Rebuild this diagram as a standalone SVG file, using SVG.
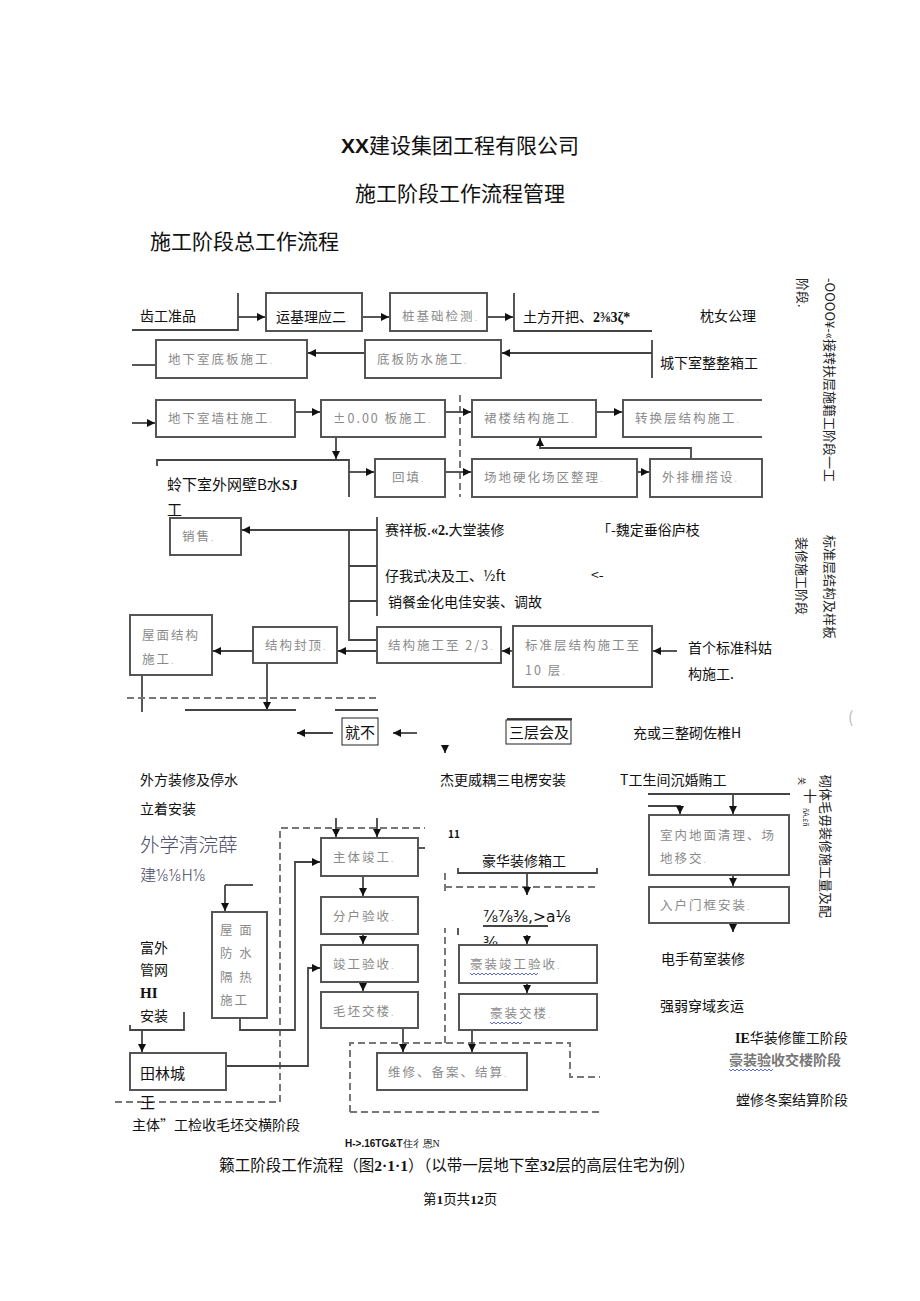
<svg xmlns="http://www.w3.org/2000/svg" width="920" height="1301" viewBox="0 0 920 1301">
<defs>
<marker id="ah" viewBox="0 0 10 10" refX="10" refY="5" markerWidth="8" markerHeight="8" markerUnits="userSpaceOnUse" orient="auto"><path d="M0,0 L10,5 L0,10 Z" fill="#111"/></marker>
<style>
text{font-family:"Noto Sans CJK SC","Noto Sans",sans-serif;}
.bx{fill:#fff;stroke:#555;stroke-width:2}
.tb{fill:#fff;stroke:#222;stroke-width:1}
.ln{fill:none;stroke:#444;stroke-width:1.8}
.ar{fill:none;stroke:#444;stroke-width:1.8;marker-end:url(#ah)}
.ds{fill:none;stroke:#777;stroke-width:2;stroke-dasharray:7 4}
.g{font-size:12.5px;fill:#8a8a8a;letter-spacing:2px}
.k{font-size:14px;fill:#111}
.dot{fill:#c0c0c0;font-size:9px}
.sb{font-family:"Liberation Serif",serif;font-weight:bold}
.wv{fill:none;stroke:#4a5bd0;stroke-width:0.9}
.vt{font-size:13px;fill:#222}
.fr{font-family:"DejaVu Sans",sans-serif}
</style>
</defs>
<rect width="920" height="1301" fill="#fff"/>

<g id="titles">
<text x="460" y="153" text-anchor="middle" font-size="21" fill="#111"><tspan font-weight="bold" font-family="Liberation Sans, sans-serif">XX</tspan>建设集团工程有限公司</text>
<text x="460" y="201" text-anchor="middle" font-size="21" fill="#111">施工阶段工作流程管理</text>
<text x="150" y="249" font-size="21" fill="#111">施工阶段总工作流程</text>
</g>

<g id="connectors">
<path class="ln" d="M132,330 H238 V293"/>
<path class="ar" d="M238,317 H265"/>
<path class="ar" d="M362,317 H389"/>
<path class="ar" d="M487,317 H513"/>
<path class="ln" d="M514,293 V331 H652"/>
<path class="ln" d="M132,365 H156"/>
<path class="ar" d="M365,353 H308"/>
<path class="ar" d="M652,353 H502"/>
<path class="ln" d="M652,340 V378"/>
<path class="ar" d="M132,423 H155"/>
<path class="ar" d="M295,412 H320"/>
<path class="ds" d="M460,395 V497"/>
<path class="ar" d="M445,412 H471"/>
<path class="ar" d="M596,412 H622"/>
<path class="ar" d="M691,459 V448 H540 V438"/>
<path class="ar" d="M336,437 V459"/>
<path class="ln" d="M157,466 V460 H349 V497"/>
<path class="ar" d="M349,472 H374"/>
<path class="ar" d="M445,472 H471"/>
<path class="ar" d="M637,472 H649"/>
<path class="ar" d="M377,530 H242"/>
<path class="ln" d="M349,530 V640 H377"/>
<path class="ln" d="M349,566 H377 M349,601 H377"/>
<path class="ln" d="M377,517 V616"/>
<path class="ar" d="M253,651 H213"/>
<path class="ar" d="M377,651 H338"/>
<path class="ar" d="M513,651 H502"/>
<path class="ar" d="M677,651 H653"/>
<path class="ln" d="M142,675 V712"/>
<path class="ds" d="M127,698 H380"/>
<path class="ar" d="M267,663 V710"/>
<path class="ln" d="M185,710 H296 M335,710 H378 M507,719 H572"/>
<path class="ar" d="M333,733 H297" stroke-width="2.6" stroke="#666"/>
<path class="ar" d="M417,733 H393" stroke-width="2.6" stroke="#666"/>
<path class="ar" d="M445,745 V753"/>
<path class="ds" d="M115,1102 H280 V828 H425"/>
<path class="ln" d="M418,848 H425"/>
<path class="ar" d="M336,818 V837"/>
<path class="ar" d="M377,818 V837"/>
<path class="ar" d="M363,876 V896"/>
<path class="ar" d="M363,934 V944"/>
<path class="ar" d="M363,982 V991"/>
<path class="ar" d="M403,1028 V1052"/>
<path class="ln" d="M225,885 H253"/>
<path class="ar" d="M225,885 V911"/>
<path class="ar" d="M240,1018 V1030 H295 V862 H320"/>
<path class="ln" d="M130,1025 V1030 H184 V1012"/>
<path class="ar" d="M142,1030 V1052"/>
<path class="ar" d="M226,1066 H308 V968 H320"/>
<path class="ds" d="M350,1112 V1043 H570 V1077 H600 M350,1112 H600"/>
<path class="ds" d="M445,1043 V928"/>
<path class="ln" d="M458,928 V935"/>
<path class="ln" d="M458,868 V873 H597 V868"/>
<path class="ds" d="M445,873 V895 M445,887 H597"/>
<path class="ar" d="M527,873 V895"/>
<path class="ar" d="M527,935 V944"/>
<path class="ar" d="M527,983 V993"/>
<path class="ar" d="M472,1030 V1052"/>
<path class="ln" d="M648,794 H790"/>
<path class="ar" d="M733,794 V814"/>
<path class="ar" d="M648,806 H680 V814"/>
<path class="ar" d="M733,875 V886"/>
<path class="ar" d="M733,923 V932"/>
<path class="ln" d="M483,926 H548"/>
</g>

<g id="n-prep"><text class="k" x="140" y="321">齿工准品</text></g>
<g id="n-yunji"><rect class="bx" x="266" y="293" width="96" height="38"/><text class="k" x="276" y="322">运基理应二<tspan class="dot">.</tspan></text></g>
<g id="n-zhuangji"><rect class="bx" x="390" y="293" width="97" height="38"/><text class="g" x="402" y="321">桩基础检测<tspan class="dot">.</tspan></text></g>
<g id="n-tufang"><text class="k" x="523" y="322">土方开把、<tspan class="sb">2⅜3ζ*</tspan></text></g>
<g id="n-t1"><text class="k" x="700" y="321">枕女公理</text></g>
<g id="n-diban"><rect class="bx" x="156" y="340" width="151" height="38"/><text class="g" x="168" y="364">地下室底板施工<tspan class="dot">.</tspan></text></g>
<g id="n-fangshui"><rect class="bx" x="365" y="340" width="136" height="38"/><text class="g" x="377" y="364">底板防水施工<tspan class="dot">.</tspan></text></g>
<g id="n-t2"><text class="k" x="660" y="368">城下室整整箱工</text></g>
<g id="n-qiangzhu"><rect class="bx" x="156" y="400" width="139" height="37"/><text class="g" x="168" y="423">地下室墙柱施工<tspan class="dot">.</tspan></text></g>
<g id="n-ban"><rect class="bx" x="321" y="400" width="124" height="37"/><text class="g" x="333" y="423">±0.00 板施工<tspan class="dot">.</tspan></text></g>
<g id="n-qunlou"><rect class="bx" x="472" y="400" width="124" height="37"/><text class="g" x="484" y="423">裙楼结构施工<tspan class="dot">.</tspan></text></g>
<g id="n-zhuanhuan"><path class="bx" d="M762,400 H623 V437 H762"/><text class="g" x="635" y="423">转换层结构施工<tspan class="dot">.</tspan></text></g>
<g id="n-waiqiang"><text x="167" y="490" font-size="15" fill="#111">蛉下室外网壁B水<tspan class="sb">SJ</tspan></text><text x="167" y="515" font-size="15" fill="#111">工</text></g>
<g id="n-huitian"><rect class="bx" x="375" y="459" width="70" height="38"/><text class="g" x="392" y="482">回填<tspan class="dot">.</tspan></text></g>
<g id="n-changdi"><rect class="bx" x="472" y="459" width="165" height="38"/><text class="g" x="484" y="482">场地硬化场区整理<tspan class="dot">.</tspan></text></g>
<g id="n-waipai"><rect class="bx" x="650" y="459" width="112" height="38"/><text class="g" x="662" y="482">外排栅搭设<tspan class="dot">.</tspan></text></g>
<g id="n-xiaoshou"><rect class="bx" x="170" y="518" width="71" height="37"/><text class="g" x="182" y="541">销售<tspan class="dot">.</tspan></text></g>
<g id="n-t3"><text class="k" x="385" y="535">赛祥板.<tspan class="sb">«2.</tspan>大堂装修</text><text class="k" x="597" y="535">「-魏定垂俗庐枝</text><text class="k" x="385" y="581">仔我式决及工、½ft</text><text class="k" x="591" y="580">&lt;-</text><text class="k" x="388" y="607">销餐金化电佳安装、调故</text></g>
<g id="n-wumian"><rect class="bx" x="130" y="615" width="82" height="60"/><text class="g" x="142" y="640">屋面结构</text><text class="g" x="142" y="664">施工<tspan class="dot">.</tspan></text></g>
<g id="n-fengding"><rect class="bx" x="253" y="627" width="84" height="36"/><text class="g" x="265" y="650">结构封顶<tspan class="dot">.</tspan></text></g>
<g id="n-zhi23"><rect class="bx" x="377" y="627" width="124" height="36"/><text class="g" x="388" y="650">结构施工至 2/3<tspan class="dot">.</tspan></text></g>
<g id="n-biaozhun"><rect class="bx" x="513" y="626" width="139" height="61"/><text class="g" x="525" y="650">标准层结构施工至</text><text class="g" x="525" y="675">10 层<tspan class="dot">.</tspan></text></g>
<g id="n-t4"><text class="k" x="688" y="653">首个标准科姑</text><text class="k" x="688" y="679">构施工.</text></g>
<g id="n-jiubu"><rect class="tb" x="342" y="718" width="36" height="27"/><text x="345" y="738" font-size="15" fill="#111">就不</text></g>
<g id="n-sanceng"><rect class="tb" x="506" y="720" width="65" height="24"/><text x="509" y="738" font-size="15" fill="#111">三层会及</text></g>
<g id="n-t5"><text class="k" x="633" y="738">充或三整砌佐椎H</text><text x="848" y="723" font-size="16" fill="#bbb">(</text></g>
<g id="n-t6"><text class="k" x="140" y="785">外方装修及停水</text><text class="k" x="140" y="814">立着安装</text><text class="k" x="440" y="785">杰更威耦三电楞安装</text><text class="k" x="620" y="785">T工生间沉婚贿工</text></g>
<g id="n-t7"><text x="140" y="852" font-size="19.5" fill="#4a4a68" font-weight="300">外学清浣薛</text><text x="140" y="881" font-size="16" fill="#4a4a68" font-weight="300">建⅛⅛H⅛</text></g>
<g id="n-zhuti"><rect class="bx" x="321" y="838" width="97" height="38"/><text class="g" x="333" y="862">主体竣工<tspan class="dot">.</tspan></text></g>
<g id="n-fenhu"><rect class="bx" x="321" y="897" width="97" height="37"/><text class="g" x="333" y="921">分户验收<tspan class="dot">.</tspan></text></g>
<g id="n-jungong"><rect class="bx" x="321" y="945" width="97" height="37"/><text class="g" x="333" y="969">竣工验收<tspan class="dot">.</tspan></text></g>
<g id="n-maopi"><rect class="bx" x="321" y="992" width="97" height="36"/><text class="g" x="333" y="1016">毛坯交楼<tspan class="dot">.</tspan></text></g>
<g id="n-wumianfs"><rect class="bx" x="212" y="912" width="55" height="106"/><text class="g" x="220" y="935">屋 面</text><text class="g" x="220" y="958">防 水</text><text class="g" x="220" y="982">隔 热</text><text class="g" x="220" y="1005">施工</text></g>
<g id="n-t8"><text class="k" x="140" y="953">富外</text><text class="k" x="140" y="975">管网</text><text x="140" y="998" font-size="15" fill="#111" class="sb">HI</text><text class="k" x="140" y="1021">安装</text></g>
<g id="n-tianlin"><rect class="bx" x="130" y="1053" width="96" height="37"/><text x="140" y="1079" font-size="15" fill="#111">田林城</text></g>
<g id="n-t9"><text x="140" y="1108" font-size="15" fill="#111">王</text><text class="k" x="132" y="1130">主体”工检收毛坯交横阶段</text></g>
<g id="n-weixiu"><rect class="bx" x="377" y="1053" width="150" height="37"/><text class="g" x="388" y="1077">维修、备案、结算<tspan class="dot">.</tspan></text></g>
<g id="n-t10"><text x="448" y="838" font-size="10" font-weight="bold" font-family="Liberation Sans, sans-serif" fill="#111">11</text><text class="k" x="482" y="866">豪华装修箱工</text><text class="fr" x="483" y="922" font-size="15.5" fill="#111">⅞⅞⅜,&gt;a⅛</text><text class="fr" x="483" y="948" font-size="15.5" fill="#111">⅜</text></g>
<g id="n-haozhuangjg"><rect class="bx" x="459" y="945" width="138" height="38"/><text class="g" x="470" y="969">豪装竣工验收<tspan class="dot">.</tspan></text><path class="wv" d="M470,973 l2,2 l2,-2 l2,2 l2,-2 l2,2 l2,-2 l2,2 l2,-2 l2,2 l2,-2 l2,2 l2,-2 l2,2 l2,-2 l2,2 l2,-2 l2,2 l2,-2 l2,2 l2,-2 l2,2 l2,-2 l2,2 l2,-2 l2,2 l2,-2 l2,2 l2,-2 l2,2 l2,-2 l2,2 l2,-2 l2,2 l2,-2"/></g>
<g id="n-haozhuangjl"><rect class="bx" x="459" y="994" width="138" height="36"/><text class="g" x="490" y="1018">豪装交楼<tspan class="dot">.</tspan></text><path class="wv" d="M490,1022 l2,2 l2,-2 l2,2 l2,-2 l2,2 l2,-2 l2,2 l2,-2 l2,2 l2,-2 l2,2 l2,-2 l2,2 l2,-2 l2,2 l2,-2"/></g>
<g id="n-shinei"><rect class="bx" x="649" y="815" width="140" height="60"/><text class="g" x="660" y="840">室内地面清理、场</text><text class="g" x="660" y="863">地移交<tspan class="dot">.</tspan></text></g>
<g id="n-ruhu"><rect class="bx" x="649" y="887" width="140" height="36"/><text class="g" x="660" y="910">入户门框安装<tspan class="dot">.</tspan></text></g>
<g id="n-t11"><text class="k" x="661" y="964">电手荀室装修</text><text class="k" x="660" y="1011">强弱穿域亥运</text><text class="k" x="735" y="1043"><tspan class="sb">IE</tspan>华装修篚工阶段</text><text x="729" y="1065" font-size="14" font-weight="bold" fill="#777">豪装验收交楼阶段</text><path class="wv" d="M729,1069 l2,2 l2,-2 l2,2 l2,-2 l2,2 l2,-2 l2,2 l2,-2 l2,2 l2,-2 l2,2 l2,-2 l2,2 l2,-2 l2,2 l2,-2 l2,2 l2,-2 l2,2 l2,-2 l2,2 l2,-2"/><text class="k" x="736" y="1105">螳修冬案结算阶段</text></g>
<g id="n-vertical">
<text class="vt" font-size="12" transform="rotate(90 798 278)" x="798" y="278">阶段.</text>
<text class="vt" transform="rotate(90 825 278)" x="825" y="278">-OOOO¥-«接转扶层施籍工阶段一工</text>
<text class="vt" transform="rotate(90 825 535)" x="825" y="535">标准层结构及样板</text>
<text class="vt" font-size="12.5" transform="rotate(90 797 537)" x="797" y="537">装修施工阶段</text>
<text class="vt" transform="rotate(90 821 775)" x="821" y="775">砌体毛毋装修施工量及配</text>
<text font-size="8" fill="#222" transform="rotate(90 799 777)" x="799" y="777">关</text>
<text font-size="14" fill="#222" x="803" y="801">十</text>
<text font-size="7" fill="#222" transform="rotate(90 803 808)" x="803" y="808">ñA.£ñ</text>
</g>
<g id="captions">
<text x="345" y="1147" font-size="10" fill="#111"><tspan font-weight="bold" font-family="Liberation Sans, sans-serif">H-&gt;.16TG&amp;T</tspan><tspan font-family="Liberation Serif, serif">住彳恩N</tspan></text>
<text x="457" y="1171" text-anchor="middle" font-size="15.5" fill="#111">籁工阶段工作流程（图<tspan class="sb">2·1·1</tspan>）（以带一层地下室<tspan class="sb">32</tspan>层的高层住宅为例）</text>
<text x="460" y="1204" text-anchor="middle" font-size="13.5" fill="#111">第<tspan class="sb">1</tspan>页共<tspan class="sb">12</tspan>页</text>
</g>
</svg>
